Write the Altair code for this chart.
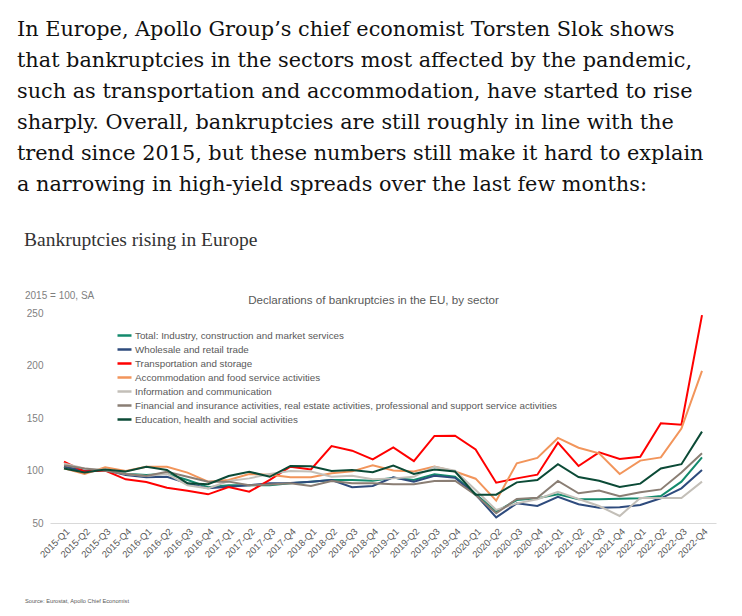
import altair as alt
import pandas as pd

quarters = [
    "2015-Q1", "2015-Q2", "2015-Q3", "2015-Q4",
    "2016-Q1", "2016-Q2", "2016-Q3", "2016-Q4",
    "2017-Q1", "2017-Q2", "2017-Q3", "2017-Q4",
    "2018-Q1", "2018-Q2", "2018-Q3", "2018-Q4",
    "2019-Q1", "2019-Q2", "2019-Q3", "2019-Q4",
    "2020-Q1", "2020-Q2", "2020-Q3", "2020-Q4",
    "2021-Q1", "2021-Q2", "2021-Q3", "2021-Q4",
    "2022-Q1", "2022-Q2", "2022-Q3", "2022-Q4",
]

total = [103.6, 99, 100.5, 97, 95.6, 97, 91, 84, 86, 86, 86, 87.8,
         89.4, 91, 91, 90.3, 93, 91, 96.4, 94, 77.6, 60.8, 71.9, 73.5,
         77.3, 72.6, 72.6, 73.2, 73.6, 75.7, 89.4, 112.5]
wholesale = [103.6, 99.8, 100.5, 95.6, 93.5, 94, 87.8, 83, 84.5, 86, 87.8, 88,
             89.4, 91, 84, 85.2, 93.5, 89.4, 95, 93, 77, 55.4, 68.7, 66.2,
             75, 67.8, 64.6, 65, 67.1, 73.5, 83, 100.5]
transport = [108.4, 99, 100, 91.6, 89, 83.6, 80.8, 77.3, 84.3, 79.8, 91, 103.6,
             101, 123.3, 118.9, 110.6, 122, 109, 132.9, 133.2, 120, 88.4, 92.5, 96,
             126.5, 104.3, 117.3, 111, 113, 145, 143.6, 248]
accommodation = [102, 96.7, 103, 99.5, 103.6, 103.6, 98, 89.4, 91, 96.7, 96, 93.5,
                 93.5, 97.3, 99.2, 105, 100, 99, 103.7, 99, 92.2, 71.3, 106.8, 112,
                 131, 121.7, 116.3, 96.7, 109.4, 112.5, 140, 194.8]
information = [106.8, 102, 100.5, 96.7, 94.8, 97, 86, 83, 90, 92.5, 96.7, 99.5,
               99, 94, 95, 91.6, 92.5, 94, 103.6, 99.8, 81.4, 62.4, 68.7, 72.6,
               79.8, 72.9, 66.2, 56.7, 73.8, 73.8, 73.8, 89.4]
financial = [105, 102, 99.8, 96.7, 94.8, 98.9, 94, 89.4, 89.4, 86, 86.7, 87.8,
             85.2, 90, 87.8, 87.8, 87, 87, 90, 90.3, 76.7, 59.2, 72.9, 74,
             90, 78.3, 81, 75.4, 79.2, 82, 98, 116.4]
education = [102, 98, 101, 99, 103.6, 100.5, 87.8, 87, 94.8, 98.9, 94, 104.3,
             104, 99.5, 100.5, 98.3, 104.6, 96.7, 101, 99, 77, 77, 88.7, 91,
             106, 93.8, 90.3, 84.3, 87.5, 102, 106, 137]

series_names = [
    "Total: Industry, construction and market services",
    "Wholesale and retail trade",
    "Transportation and storage",
    "Accommodation and food service activities",
    "Information and communication",
    "Financial and insurance activities, real estate activities, professional and support service activities",
    "Education, health and social activities",
]
series_values = [total, wholesale, transport, accommodation, information, financial, education]
series_colors = ["#138a6c", "#2e4b7d", "#ff0000", "#f2955b", "#c3bfb8", "#8a7e74", "#0b4a36"]

paragraph = [
    "In Europe, Apollo Group\u2019s chief economist Torsten Slok shows",
    "that bankruptcies in the sectors most affected by the pandemic,",
    "such as transportation and accommodation, have started to rise",
    "sharply. Overall, bankruptcies are still roughly in line with the",
    "trend since 2015, but these numbers still make it hard to explain",
    "a narrowing in high-yield spreads over the last few months:",
]
chart_title = "Bankruptcies rising in Europe"
unit_note = "2015 = 100, SA"
inner_title = "Declarations of bankruptcies in the EU, by sector"
source_note = "Source: Eurostat, Apollo Chief Economist"

rows = []
for si, (name, vals) in enumerate(zip(series_names, series_values)):
    for q, v in zip(quarters, vals):
        rows.append({"Quarter": q, "Value": v, "Series": name, "order": si})
df = pd.DataFrame(rows)

SANS = "Liberation Sans"

lines = alt.Chart(df).mark_line(strokeWidth=2, clip=False).encode(
    x=alt.X("Quarter:O", sort=quarters,
            scale=alt.Scale(type="point", padding=0.68),
            axis=alt.Axis(title=None, labelAngle=-45, labelColor="#595959",
                          labelFont=SANS, labelFontSize=9.5, ticks=False,
                          domain=True, domainColor="#d9d9d9", domainWidth=1,
                          labelPadding=3)),
    y=alt.Y("Value:Q", scale=alt.Scale(domain=[50, 250], nice=False, zero=False),
            axis=alt.Axis(title=None, values=[50, 100, 150, 200, 250], domain=False,
                          ticks=False, grid=False, labelColor="#7f7f7f",
                          labelFont=SANS, labelFontSize=10, labelPadding=7)),
    color=alt.Color("Series:N", sort=series_names,
                    scale=alt.Scale(domain=series_names, range=series_colors),
                    legend=alt.Legend(title=None, orient="none", legendX=66, legendY=14,
                                      symbolType="stroke", symbolSize=196,
                                      symbolStrokeWidth=2.5, labelFont=SANS,
                                      labelFontSize=9.8, labelColor="#595959",
                                      labelLimit=650, rowPadding=0, labelOffset=2)),
    order=alt.Order("order:Q"),
    detail="Series:N",
)

one = pd.DataFrame({"a": [0]})


def label(text, x, y, size, color, font=SANS, align="left", baseline="alphabetic", **kw):
    return alt.Chart(one).mark_text(
        text=text, align=align, baseline=baseline, font=font, fontSize=size,
        color=color, clip=False, **kw
    ).encode(x=alt.value(x), y=alt.value(y))


para = label(paragraph, -33, -277, 20.8, "#111111", font="DejaVu Serif", lineHeight=31)
ttl = label(chart_title, -26, -67, 19.5, "#333333", font="Liberation Serif")
unit = label(unit_note, -25, -14, 10, "#7f7f7f")
inner = label(inner_title, 323.5, -9, 11.6, "#595959", align="center")
src = label(source_note, -25, 290, 5.7, "#595959")

chart = alt.layer(lines, para, ttl, unit, inner, src).properties(
    width=666, height=210,
    autosize=alt.AutoSizeParams(type="none"),
    padding={"left": 50, "top": 313, "right": 26, "bottom": 93},
    background="white",
).configure_view(stroke=None)

chart.save("out.html", embed_options={"renderer": "svg", "actions": False})
